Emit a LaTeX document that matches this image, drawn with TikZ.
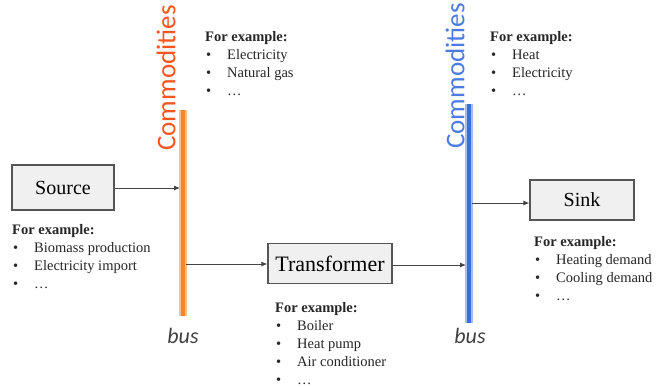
\documentclass[tikz,border=0pt]{standalone}
\usepackage{fontspec}
\setmainfont{Liberation Serif}
\newfontfamily\carlito{Carlito}
\usetikzlibrary{arrows.meta}
\definecolor{orcore}{HTML}{F5862C}
\definecolor{orglow}{HTML}{FBC08C}
\definecolor{blcore}{HTML}{3A6DE2}
\definecolor{blglow}{HTML}{A7BEF2}
\definecolor{ortext}{HTML}{F8561E}
\definecolor{bltext}{HTML}{4B7BE3}
\definecolor{boxfill}{HTML}{F0F0F0}
\definecolor{boxline}{HTML}{555555}
\definecolor{arr}{HTML}{444444}
\tikzset{
  compbox/.style={draw=boxline, line width=1.2pt, fill=boxfill, inner sep=0pt, font=\fontsize{20}{22}\selectfont},
  flow/.style={draw=arr, line width=0.9pt, -{Latex[length=6pt,width=5pt]}},
  infotext/.style={anchor=north west, inner sep=0pt, align=left, font=\fontsize{14.5}{18}\selectfont, text=black!85},
  commlabel/.style={rotate=90, inner sep=0pt, font=\carlito\fontsize{27}{30}\selectfont},
  buslabel/.style={inner sep=0pt, font=\carlito\itshape\fontsize{22}{24}\selectfont, text=black!75},
}
\newcommand{\bul}{\makebox[22pt][l]{\hspace{1pt}\textbullet}}
\begin{document}
\begin{tikzpicture}[x=1pt,y=-1pt]
\useasboundingbox (0,0) rectangle (660,386);
\fill[white] (0,0) rectangle (660,386);

% buses
\coordinate (obtop) at (183,110);
\coordinate (obbot) at (183,316);
\coordinate (bbtop) at (469,104);
\coordinate (bbbot) at (469,323);
\draw[orglow, line width=8pt] (obtop) -- (obbot);
\draw[orcore, line width=4.5pt] (obtop) -- (obbot);
\draw[blglow, line width=8pt] (bbtop) -- (bbbot);
\draw[blcore, line width=4.5pt] (bbtop) -- (bbbot);

\node[commlabel, text=ortext] (com1) at (166,78) {Commodities};
\node[commlabel, text=bltext] (com2) at (455,76) {Commodities};
\node[buslabel] (bus1) at (183,336) {bus};
\node[buslabel] (bus2) at (470,336) {bus};

% components
\node[compbox, minimum width=102pt, minimum height=45pt] (source) at (63,187.5) {Source};
\node[compbox, minimum width=124pt, minimum height=40pt, font=\fontsize{22}{24}\selectfont] (trans) at (330,263.5) {Transformer};
\node[compbox, minimum width=104pt, minimum height=40pt] (sink) at (582,200) {Sink};

% connectors
\coordinate (ob1) at (180,188);
\coordinate (ob2) at (186,264);
\coordinate (bb1) at (466,265);
\coordinate (bb2) at (472,203);
\draw[flow] (source.east |- ob1) -- (ob1);
\draw[flow] (ob2) -- (trans.west |- ob2);
\draw[flow] (trans.east |- bb1) -- (bb1);
\draw[flow] (bb2) -- (sink.west |- bb2);

% info texts
\node[infotext] (t1) at (12,224) {\textbf{For example:}\\\bul Biomass production\\\bul Electricity import\\\bul \ldots};
\node[infotext] (t2) at (205,31) {\textbf{For example:}\\\bul Electricity\\\bul Natural gas\\\bul \ldots};
\node[infotext] (t3) at (275,302) {\textbf{For example:}\\\bul Boiler\\\bul Heat pump\\\bul Air conditioner\\\bul \ldots};
\node[infotext] (t4) at (490,31) {\textbf{For example:}\\\bul Heat\\\bul Electricity\\\bul \ldots};
\node[infotext] (t5) at (534,236) {\textbf{For example:}\\\bul Heating demand\\\bul Cooling demand\\\bul \ldots};
\end{tikzpicture}
\end{document}
